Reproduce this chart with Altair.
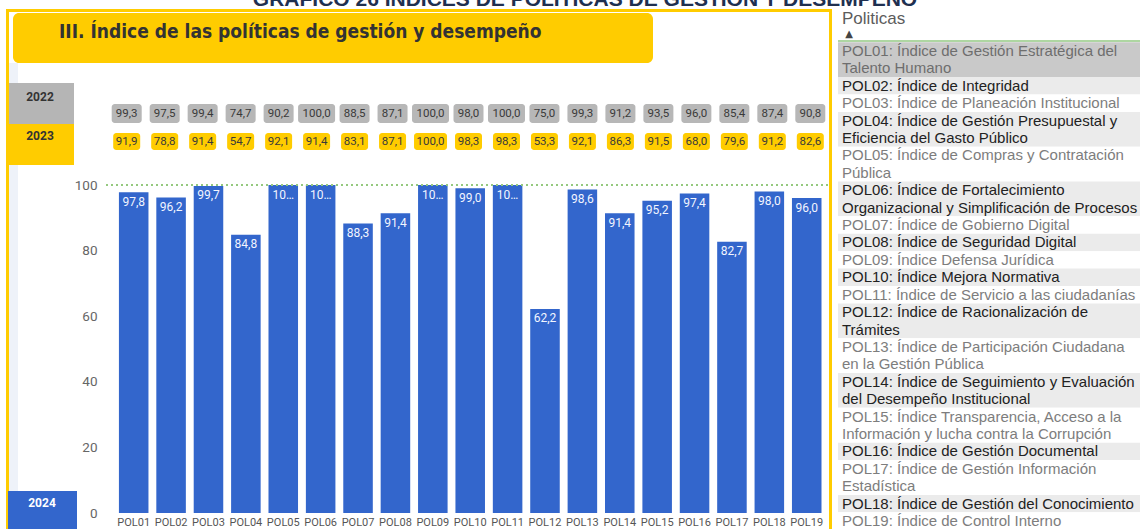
import altair as alt
import pandas as pd

# ---- data -------------------------------------------------------------
POLICIES = [f"POL{i:02d}" for i in range(1, 20)]
VAL_2024 = [97.8, 96.2, 99.7, 84.8, 100.0, 100.0, 88.3, 91.4, 100.0, 99.0,
            100.0, 62.2, 98.6, 91.4, 95.2, 97.4, 82.7, 98.0, 96.0]
VAL_2022 = [99.3, 97.5, 99.4, 74.7, 90.2, 100.0, 88.5, 87.1, 100.0, 98.0,
            100.0, 75.0, 99.3, 91.2, 93.5, 96.0, 85.4, 87.4, 90.8]
VAL_2023 = [91.9, 78.8, 91.4, 54.7, 92.1, 91.4, 83.1, 87.1, 100.0, 98.3,
            98.3, 53.3, 92.1, 86.3, 91.5, 68.0, 79.6, 91.2, 82.6]
Y_TICKS = [0, 20, 40, 60, 80, 100]
YEARS = ["2022", "2023"]

POLICY_NAMES = [
    ["POL01: Índice de Gestión Estratégica del", "Talento Humano"],
    ["POL02: Índice de Integridad"],
    ["POL03: Índice de Planeación Institucional"],
    ["POL04: Índice de Gestión Presupuestal y", "Eficiencia del Gasto Público"],
    ["POL05: Índice de Compras y Contratación", "Pública"],
    ["POL06: Índice de Fortalecimiento", "Organizacional y Simplificación de Procesos"],
    ["POL07: Índice de Gobierno Digital"],
    ["POL08: Índice de Seguridad Digital"],
    ["POL09: Índice Defensa Jurídica"],
    ["POL10: Índice Mejora Normativa"],
    ["POL11: Índice de Servicio a las ciudadanías"],
    ["POL12: Índice de Racionalización de", "Trámites"],
    ["POL13: Índice de Participación Ciudadana", "en la Gestión Pública"],
    ["POL14: Índice de Seguimiento y Evaluación", "del Desempeño Institucional"],
    ["POL15: Índice Transparencia, Acceso a la", "Información y lucha contra la Corrupción"],
    ["POL16: Índice de Gestión Documental"],
    ["POL17: Índice de Gestión Información", "Estadística"],
    ["POL18: Índice de Gestión del Conocimiento"],
    ["POL19: Índice de Control Interno"],
]

TITLE = "III. Índice de las políticas de gestión y desempeño"
HEADER = "GRÁFICO 26 ÍNDICES DE POLÍTICAS DE GESTIÓN Y DESEMPEÑO"

# ---- layout -----------------------------------------------------------
PAD_L, PAD_T, PAD_R, PAD_B = 103, 185, 312, 16
W, H = 1140 - PAD_L - PAD_R, 529 - PAD_T - PAD_B

BLUE = "#3366CC"
YELLOW = "#FFCC00"
GREY_BOX = "#b7b7b7"
NUM_FONT = "Roboto"
LIST_FONT = "Liberation Sans"
TITLE_FONT = "DejaVu Sans Condensed, Roboto"


def fmt(v):
    return f"{v:.1f}".replace(".", ",")


def bar_label(v):
    s = fmt(v)
    return s if len(s) <= 4 else s[:2] + "…"


bars_df = pd.DataFrame({
    "pol": POLICIES,
    "value": VAL_2024,
    "label": [bar_label(v) for v in VAL_2024],
})

rows = []
for year, vals in zip(YEARS, [VAL_2022, VAL_2023]):
    for p, v in zip(POLICIES, vals):
        s = fmt(v)
        rows.append({"pol": p, "year": year, "label": s, "wide": len(s) > 4})
rows_df = pd.DataFrame(rows)

line_rows, bg_rows = [], []
line_no = 0
for i, lines in enumerate(POLICY_NAMES):
    even = (i + 1) % 2 == 0
    if i == 0:
        fill, ink = "#c9c9c9", "#6e6e6e"
    elif even:
        fill, ink = "#ebebeb", "#222222"
    else:
        fill, ink = "#ffffff", "#7d7d7d"
    bg_rows.append({"y0": line_no - 0.5, "y1": line_no + len(lines) - 0.5, "fill": fill})
    for t in lines:
        line_rows.append({"line": line_no, "text": t, "ink": ink})
        line_no += 1
lines_df = pd.DataFrame(line_rows)
bg_df = pd.DataFrame(bg_rows)

ONE = pd.DataFrame({"k": [0]})


def box(x0, y0, x1, y1, **kw):
    return alt.Chart(ONE).mark_rect(**kw).encode(
        x=alt.value(x0 - PAD_L), x2=alt.value(x1 - PAD_L),
        y=alt.value(y0 - PAD_T), y2=alt.value(y1 - PAD_T))


def label(x, y, text, **kw):
    return alt.Chart(ONE).mark_text(text=text, **kw).encode(
        x=alt.value(x - PAD_L), y=alt.value(y - PAD_T))


# ---- main bar chart (2024) -------------------------------------------
x_band = alt.X("pol:N", sort=POLICIES, title=None,
               scale=alt.Scale(paddingInner=0.21, paddingOuter=0.30, align=0.71),
               axis=alt.Axis(labelAngle=0, ticks=False, domain=False, labelPadding=3,
                             labelFont=NUM_FONT, labelFontSize=11, labelColor="#555555"))
y_lin = alt.Y("value:Q", title=None,
              scale=alt.Scale(domain=[0, 100], nice=False),
              axis=alt.Axis(values=Y_TICKS, ticks=False, domain=False, grid=False,
                            labelPadding=6, labelFont=NUM_FONT, labelFontSize=13.5,
                            labelColor="#666666"))

bars = alt.Chart(bars_df).mark_bar(color=BLUE).encode(x=x_band, y=y_lin)
bar_text = alt.Chart(bars_df).mark_text(
    baseline="top", dy=4.5, font=NUM_FONT, fontSize=12, color="#f2f5ff"
).encode(x=x_band, y=y_lin, text="label:N")
target = alt.Chart(ONE).mark_rule(color="#95c97f", strokeDash=[2, 3], strokeWidth=2).encode(
    y=alt.datum(100))
main = alt.layer(bars, bar_text, target)

# ---- 2022 / 2023 value rows ------------------------------------------
x_row = alt.X("pol:N", sort=POLICIES, axis=None,
              scale=alt.Scale(type="point", padding=0,
                              range=[126.7 - PAD_L, 810.3 - PAD_L]))


def cells(year, wide, width, top, bottom, color):
    cond = f"datum.year == '{year}' && {'datum.wide' if wide else '!datum.wide'}"
    return alt.Chart(rows_df).transform_filter(cond).mark_rect(
        width=width, cornerRadius=3, color=color
    ).encode(x=x_row, y=alt.value(top - PAD_T), y2=alt.value(bottom - PAD_T))


row_text = alt.Chart(rows_df).mark_text(
    font=NUM_FONT, fontSize=11.5, color="#3a3a3a", baseline="middle"
).encode(
    x=x_row,
    y=alt.Y("year:N", axis=None,
            scale=alt.Scale(type="point", padding=0, domain=YEARS,
                            range=[113.5 - PAD_T, 141.5 - PAD_T])),
    text="label:N")

table = alt.layer(
    cells("2022", False, 30, 104, 123, GREY_BOX),
    cells("2022", True, 37, 104, 123, GREY_BOX),
    cells("2023", False, 27, 133, 150, YELLOW),
    cells("2023", True, 33, 133, 150, YELLOW),
    row_text,
)

# ---- policy list on the right ---------------------------------------
list_scale = alt.Scale(domain=[0, line_no - 1], range=[51 - PAD_T, 521 - PAD_T])
list_bg = alt.Chart(bg_df).mark_rect().encode(
    x=alt.value(838 - PAD_L), x2=alt.value(1145 - PAD_L),
    y=alt.Y("y0:Q", scale=list_scale, axis=None), y2="y1:Q",
    color=alt.Color("fill:N", scale=None))
list_text = alt.Chart(lines_df).mark_text(
    align="left", baseline="middle", font=LIST_FONT, fontSize=15
).encode(
    x=alt.value(842 - PAD_L),
    y=alt.Y("line:Q", scale=list_scale, axis=None),
    text="text:N", color=alt.Color("ink:N", scale=None))
policy_list = alt.layer(list_bg, list_text)

list_head = alt.layer(
    label(842, 19, "Politicas", align="left", baseline="middle", font=LIST_FONT,
          fontSize=17, color="#5c5c5c"),
    label(849, 34, "▲", align="center", baseline="middle", font="DejaVu Sans",
          fontSize=10, color="#444444"),
    alt.Chart(ONE).mark_rule(color="#93c983", strokeWidth=1.5).encode(
        x=alt.value(838 - PAD_L), x2=alt.value(1145 - PAD_L), y=alt.value(41 - PAD_T)),
)

# ---- frame, title and year headers -----------------------------------
frame = alt.layer(
    box(18, 63, 9, 491, color="#eef2f9"),
    box(7.5, 10.5, 830.5, 545, filled=False, stroke=YELLOW, strokeWidth=3),
    box(13, 13, 653, 63, color=YELLOW, cornerRadius=6),
    label(59, 32, TITLE, align="left", baseline="middle", font=TITLE_FONT,
          fontSize=19, fontWeight="bold", color="#333333"),
    label(585, 6, HEADER, align="center", baseline="alphabetic", font=LIST_FONT,
          fontSize=21, fontWeight="bold", color="#1f3050"),
    box(9, 83, 74, 124, color="#b5b5b5"),
    box(9, 124, 74, 165, color=YELLOW),
    box(8, 491, 77, 545, color=BLUE),
    label(40, 97, "2022", baseline="middle", font=NUM_FONT, fontSize=12,
          fontWeight="bold", color="#333333"),
    label(40, 136, "2023", baseline="middle", font=NUM_FONT, fontSize=12,
          fontWeight="bold", color="#333333"),
    label(42, 503, "2024", baseline="middle", font=NUM_FONT, fontSize=12,
          fontWeight="bold", color="#ffffff"),
)

chart = alt.layer(frame, list_head, policy_list, table, main).resolve_scale(
    x="independent", y="independent"
).properties(
    width=W, height=H,
    autosize=alt.AutoSizeParams(type="none"),
    padding={"left": PAD_L, "top": PAD_T, "right": PAD_R, "bottom": PAD_B},
    background="white",
).configure_view(stroke=None)

chart.save("out.html", embed_options={"renderer": "svg", "actions": False})
